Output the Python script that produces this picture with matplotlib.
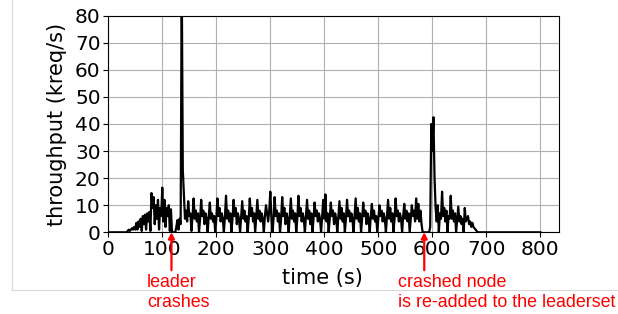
import numpy as np
import matplotlib
matplotlib.use("Agg")
import matplotlib.pyplot as plt
from matplotlib.lines import Line2D

# sampling step (s)
step = 2

# throughput (kreq/s) samples, every 2 s starting at t = 0
idle_start = [0] * 18
ramp_up = [0.5, 1, 0.5, 1, 1.5, 1, 2, 1, 3.5,
           1, 4, 2, 5, 0.5, 6, 3, 6.5, 1, 7, 4, 7.5, 0.5, 14.5, 9, 13, 3, 10, 5, 12,
           1, 9, 6, 16.5, 4, 12, 2, 9, 6, 10, 0.5, 8.5]
leader_down = [0, 0, 0, 0]
reelection = [2, 4.5, 1, 5, 3, 95]
steady = [23, 14, 5, 8, 4, 11.5, 6, 7, 0.5, 6, 12.5, 5, 8, 4, 7, 0,
          5, 12, 6, 8, 3, 7, 5, 0, 6, 11, 5, 7, 4, 6, 0,
          5, 12.5, 6, 9, 4, 7, 5, 0, 6, 13.5, 5, 8, 4, 7, 0,
          5, 12, 6, 9, 3, 7, 5, 0, 6, 11.5, 5, 8, 4, 6, 0,
          5, 12.5, 6, 9, 4, 7, 0, 6, 12, 5, 8, 4, 7, 5, 0,
          6, 10, 7, 4, 8, 15, 6, 0, 5, 13, 6, 8, 4, 7, 0,
          5, 13, 6, 9, 3, 7, 5, 0, 6, 12.5, 5, 8, 4, 7, 0,
          5, 13.5, 6, 9, 4, 7, 5, 0, 6, 12, 5, 8, 3, 7, 0,
          5, 11, 6, 8, 4, 7, 5, 0, 6, 12, 5, 14, 4, 7, 0,
          5, 11, 6, 8, 3, 7, 5, 0, 6, 11.5, 5, 9, 4, 7, 0,
          5, 12, 6, 8, 4, 7, 5, 0, 6, 12.5, 5, 9, 4, 7, 0,
          5, 11, 6, 8, 3, 7, 5, 0, 6, 10.5, 5, 8, 4, 6, 0,
          5, 10, 6, 8, 4, 7, 5, 0, 6, 12, 5, 9, 4, 7, 0,
          5, 12.5, 6, 8, 4, 7, 5, 0, 6, 10.5, 5, 8, 4, 7, 0,
          5, 10, 6, 8, 4, 12.5, 5, 10.5, 4, 8, 3]
node_down = [0, 0, 0, 0, 0, 0, 0]
recovery = [2, 40, 30, 42.5, 20.5, 9, 4, 10, 0, 7, 5, 15, 6, 9, 4, 8, 0,
            6, 5, 13.5, 5, 8, 4, 7, 0, 5, 9.5, 4, 6, 3, 5, 0,
            9, 4, 5, 6, 3, 4, 2, 3.5, 2, 1.5, 1, 0.5, 0]
idle_end = [0] * 58

values = np.array(idle_start + ramp_up + leader_down + reelection + steady
                  + node_down + recovery + idle_end, dtype=float)
times = np.arange(len(values)) * step

xticks = [0, 100, 200, 300, 400, 500, 600, 700, 800]
yticks = [0, 10, 20, 30, 40, 50, 60, 70, 80]
crash_t = 117
readd_t = 585

fig = plt.figure(figsize=(6.18, 3.14), dpi=100)
ax = fig.add_axes([0.1752, 0.2602, 0.7298, 0.6898])
ax.plot(times, values, color="black", lw=1.6)
ax.set_xlim(0, 835)
ax.set_ylim(0, 80)
ax.set_xticks(xticks)
ax.set_yticks(yticks)
ax.tick_params(labelsize=14.5, pad=2)
ax.grid(True, color="#b0b0b0", lw=0.8)
ax.set_axisbelow(True)
ax.set_xlabel("time (s)", fontsize=15, labelpad=0)
ax.xaxis.set_label_coords(0.475, -0.165)
ax.set_ylabel("throughput (kreq/s)", fontsize=15, labelpad=6)

for t in (crash_t, readd_t):
    ax.annotate("", xy=(t, 0), xycoords=("data", "axes fraction"),
                xytext=(t, -0.175), textcoords=("data", "axes fraction"),
                arrowprops=dict(arrowstyle="-|>,head_length=0.35,head_width=0.18",
                                color="red", lw=1.6, shrinkA=0, shrinkB=0),
                annotation_clip=False)

red_font = dict(color="red", fontsize=12.9, family="Liberation Sans",
                ha="left", va="baseline", linespacing=1.2)
fig.text(147 / 618, 1 - 287.3 / 314, "leader", **red_font)
fig.text(147 / 618, 1 - 306.7 / 314, "crashes", **red_font)
fig.text(398.3 / 618, 1 - 287.3 / 314, "crashed node", **red_font)
fig.text(398.3 / 618, 1 - 306.7 / 314, "is re-added to the leaderset", **red_font)

# light frame lines of the original screenshot
fig.add_artist(Line2D([12.3 / 618, 12.3 / 618], [1, 1 - 290 / 314],
                      transform=fig.transFigure, color="#d8d8d8", lw=0.8))
fig.add_artist(Line2D([12.3 / 618, 1], [1 - 290 / 314, 1 - 290 / 314],
                      transform=fig.transFigure, color="#d8d8d8", lw=0.8))

fig.savefig("out.png", dpi=100)
